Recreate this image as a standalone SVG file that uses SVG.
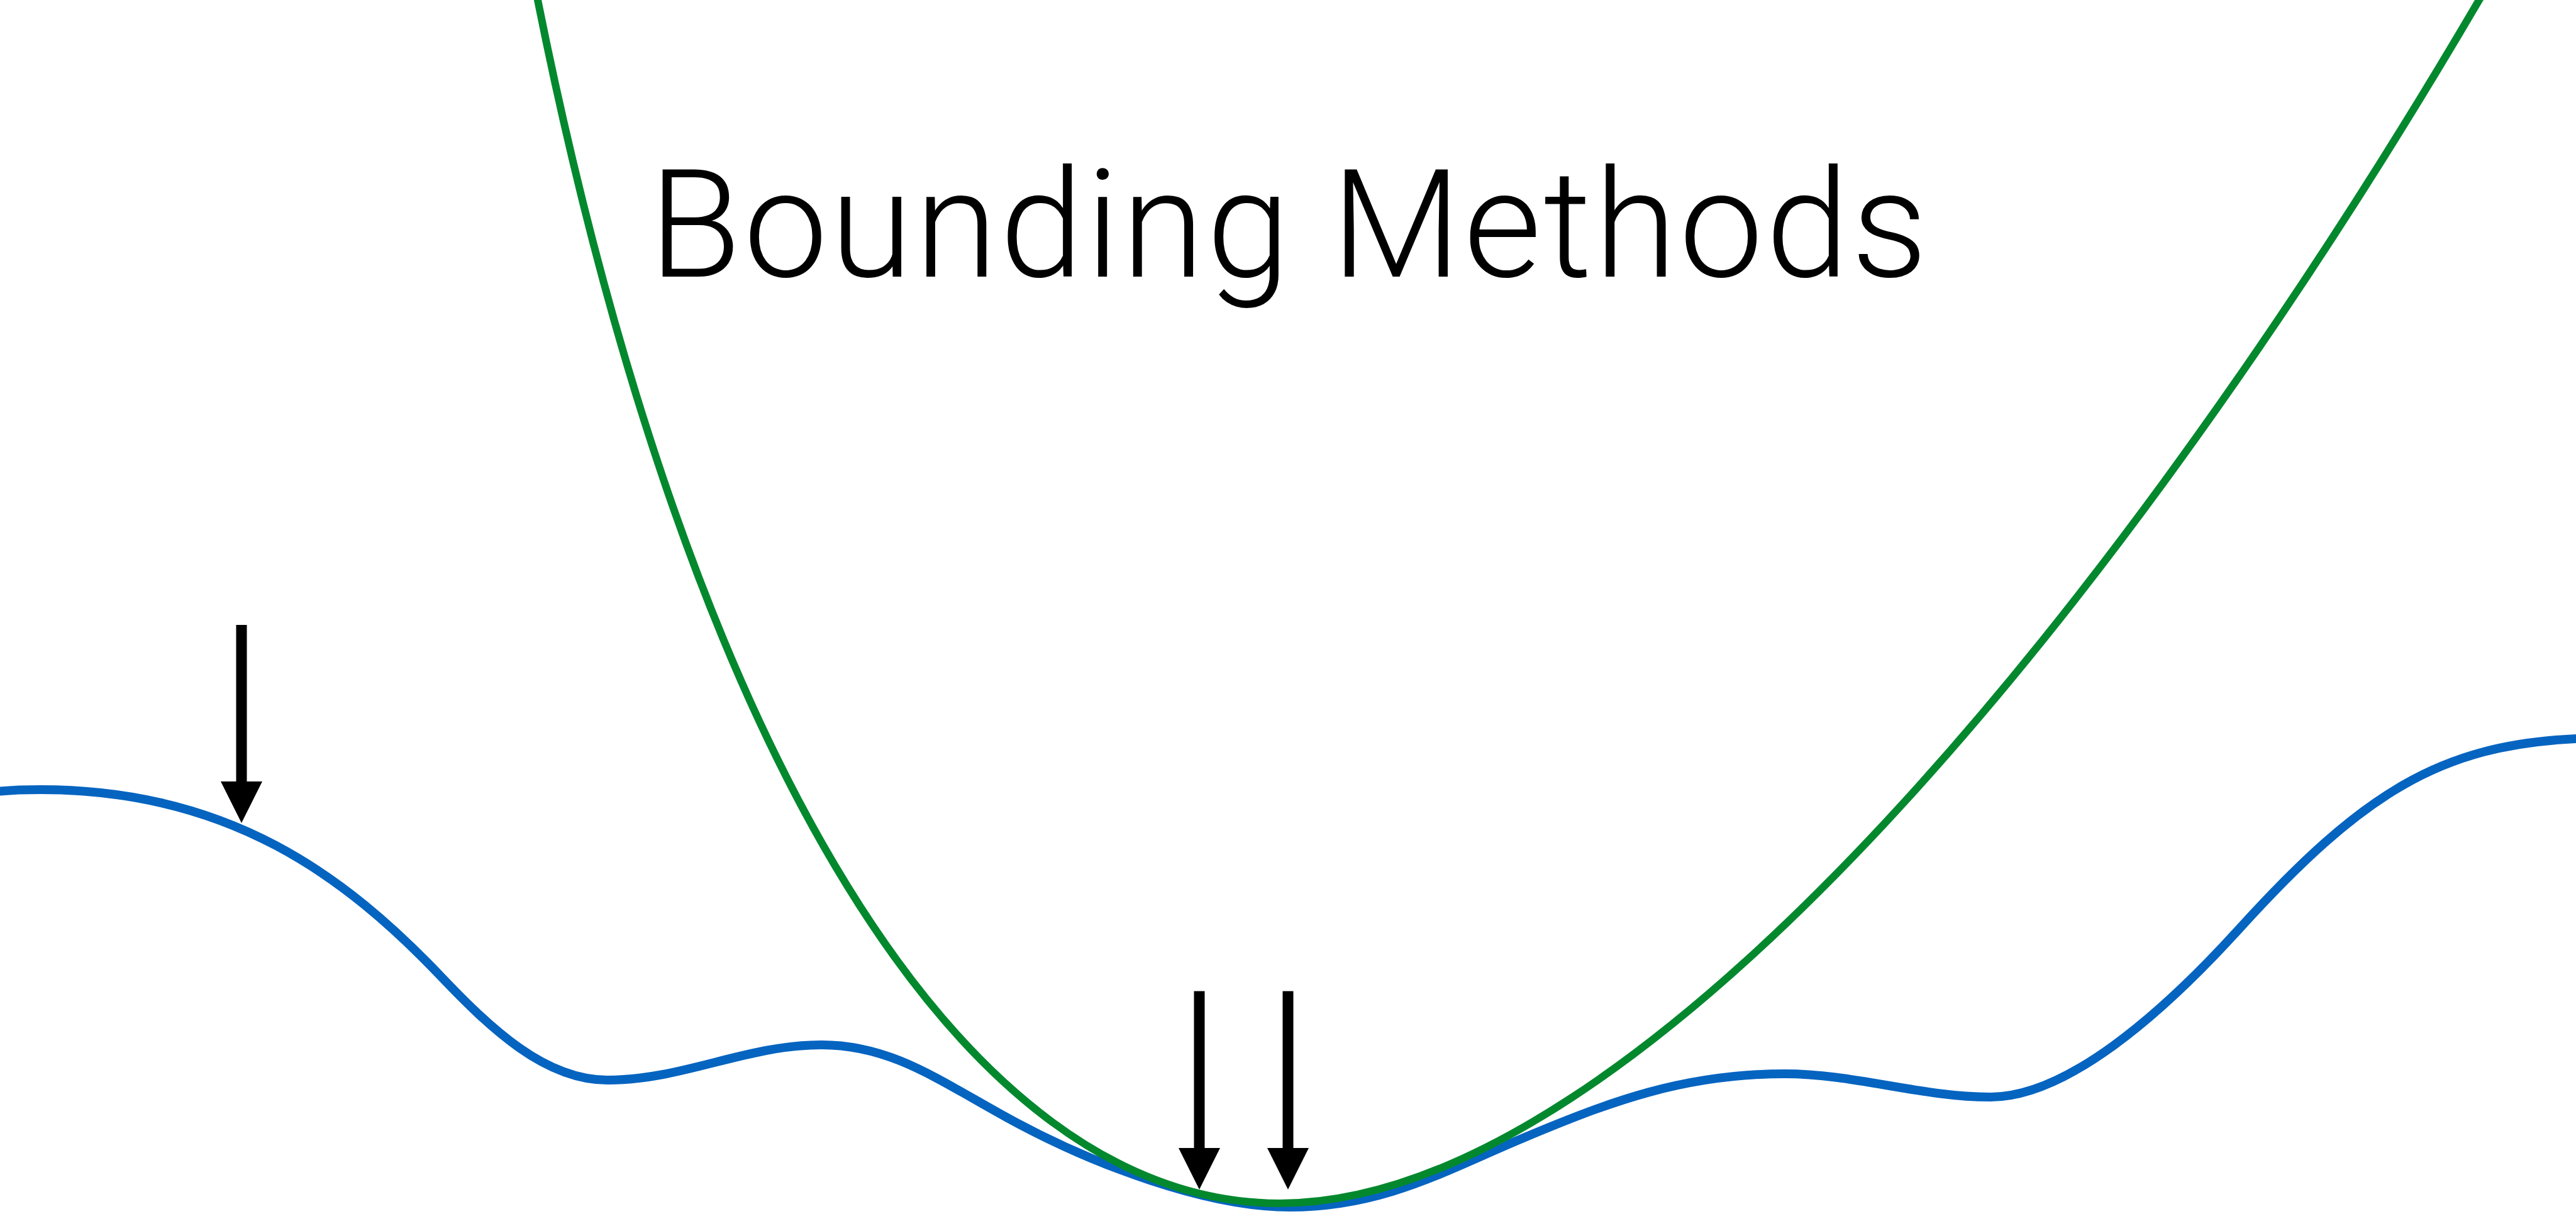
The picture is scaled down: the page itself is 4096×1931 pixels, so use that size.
<svg xmlns="http://www.w3.org/2000/svg" width="4096" height="1931" viewBox="0 0 4096 1931">
  <style>
    .curve { fill: none; stroke-linejoin: round; }
    .blue { stroke: #0564C0; stroke-width: 14; }
    .green { stroke: #04882E; stroke-width: 12; }
    .arrow { stroke: #000000; stroke-width: 17; fill: none; }
    .title { font-family: Roboto, "Liberation Sans", Arial, sans-serif; font-weight: 300; font-size: 239px; fill: #000000; }
  </style>
  <defs>
    <marker id="head" markerUnits="userSpaceOnUse" markerWidth="66" markerHeight="66" viewBox="0 0 66 66" refX="0" refY="33" orient="auto">
      <path d="M0,0 L66,33 L0,66 Z" fill="#000000"/>
    </marker>
  </defs>
  <rect x="0" y="0" width="4096" height="1931" fill="#FFFFFF"/>
  <g id="blue-curve">
    <path class="curve blue" d="M -12,1259 L 0,1258.5 C 22,1256.5 44,1256 65,1256 C 365,1256 550,1394.5 700,1552 C 780,1636 866,1718 966,1718 C 1086,1718 1186,1662 1306,1662 C 1416,1662 1490,1716.5 1600,1777 C 1740,1854 1920,1920 2050,1920 C 2200,1920 2300,1861 2420,1811 C 2560,1752 2678,1708 2838,1708 C 2948,1708 3055,1745 3165,1745 C 3285,1745 3435,1615.5 3560,1478 C 3757,1261 3880,1185 4096,1175 L 4110,1174.5"/>
  </g>
  <g id="green-curve">
    <path class="curve green" d="M 851,-20 L 855,0 C 1096.3,1205.8 1532.9,1914 2035,1914 C 2607,1914 3389,943.5 3942,0 L 3954,-20.5"/>
  </g>
  <g id="connectors">
    <line class="arrow" x1="384" y1="994" x2="384" y2="1243" marker-end="url(#head)"/>
    <line class="arrow" x1="1907" y1="1576.5" x2="1907" y2="1826" marker-end="url(#head)"/>
    <line class="arrow" x1="2048" y1="1576.5" x2="2048" y2="1826" marker-end="url(#head)"/>
  </g>
  <g id="title">
    <text class="title" x="1032" y="440" textLength="2033" lengthAdjust="spacing">Bounding Methods</text>
  </g>
</svg>
